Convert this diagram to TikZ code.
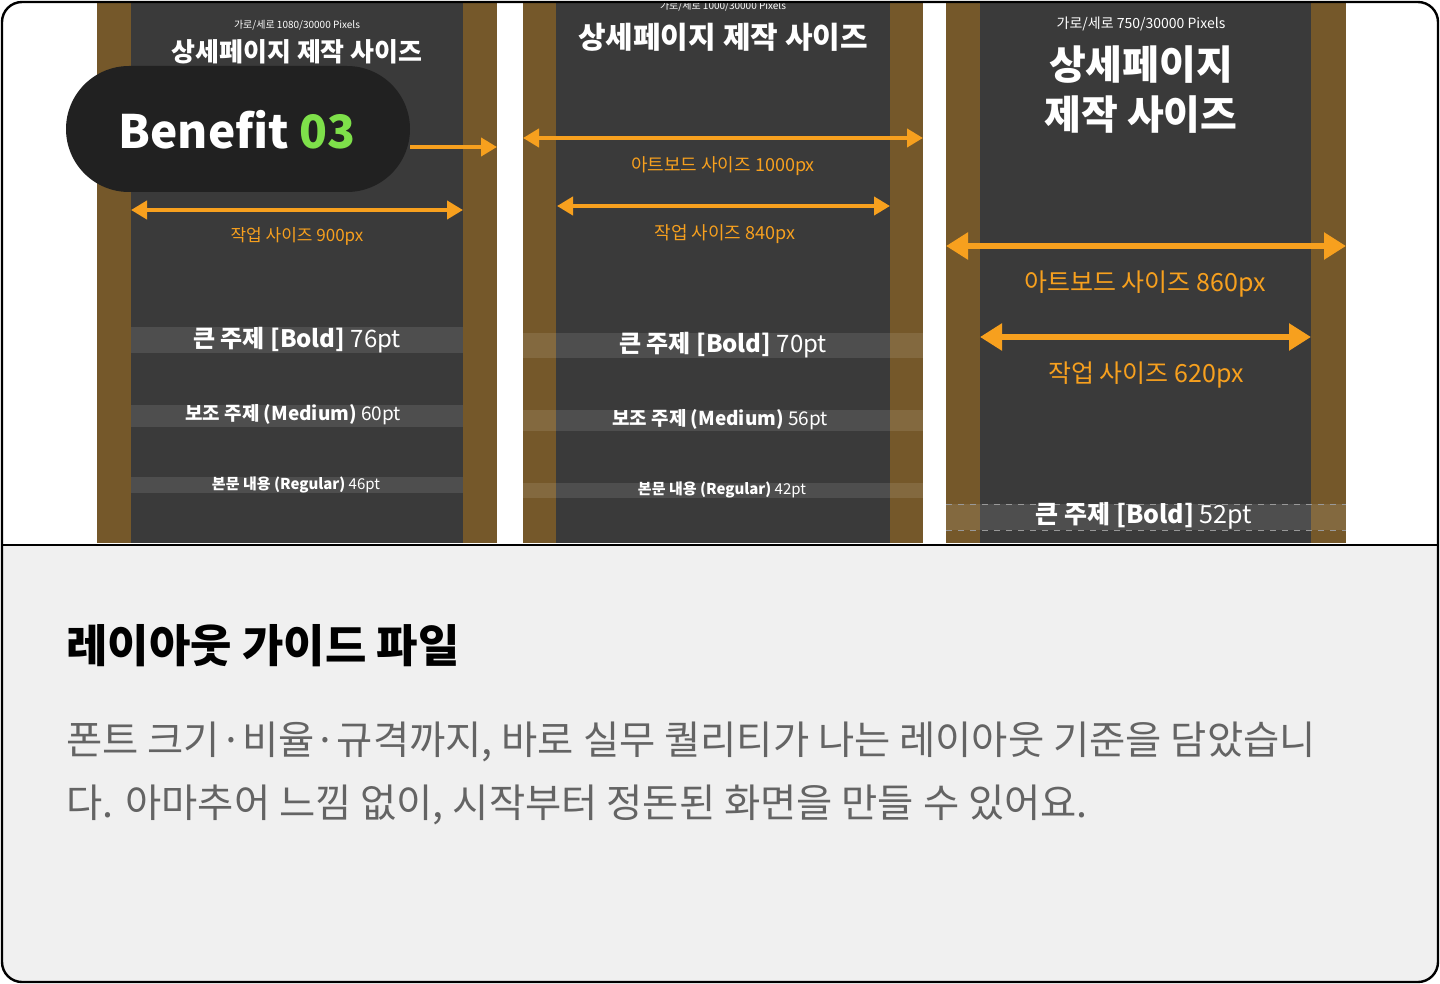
\documentclass[tikz,border=0pt]{standalone}
\usepackage{fontspec}
\setmainfont{Noto Sans CJK KR}
\usetikzlibrary{positioning}
\usetikzlibrary{arrows.meta}
\definecolor{edge}{RGB}{117,88,42}
\definecolor{panel}{RGB}{58,58,58}
\definecolor{amber}{RGB}{247,160,30}
\definecolor{lime}{RGB}{126,224,74}
\definecolor{pale}{RGB}{240,240,240}
\definecolor{body}{RGB}{100,100,100}
\tikzset{
  measure/.style={amber, line width=2pt, {Triangle[width=9pt,length=8pt]}-{Triangle[width=9pt,length=8pt]}},
  bigmeasure/.style={amber, line width=3pt, {Triangle[width=13pt,length=11pt]}-{Triangle[width=13pt,length=11pt]}},
  band/.style={fill=white, fill opacity=0.1},
  lbl/.style={text=white, inner sep=0pt},
  olbl/.style={text=amber, inner sep=0pt}
}
\begin{document}
\begin{tikzpicture}[x=0.5pt,y=-0.5pt]
\useasboundingbox (0,0) rectangle (1440,984);
\begin{scope}
\clip[rounded corners=10pt] (2,2) rectangle (1438,982);
\fill[white] (0,0) rectangle (1440,545);
\fill[pale] (0,545) rectangle (1440,984);

% panels
\fill[edge] (97,3) rectangle (497,543);
\fill[panel] (131,3) rectangle (463,543);
\fill[edge] (523,3) rectangle (923,543);
\fill[panel] (556,3) rectangle (890,543);
\fill[edge] (946,3) rectangle (1346,543);
\fill[panel] (980,3) rectangle (1311,543);

% panel 1
\node[lbl, font=\fontsize{5}{6}\selectfont] (p1px) at (297,25) {가로/세로 1080/30000 Pixels};
\node[lbl, font=\fontsize{13}{15}\selectfont\bfseries] (p1title) at (297,52) {상세페이지 제작 사이즈};
\coordinate (w1a) at (131,210); \coordinate (w1b) at (463,210);
\draw[measure] (w1a) -- (w1b);
\node[olbl, font=\fontsize{8.5}{10}\selectfont] (w1) at (297,236) {작업 사이즈 900px};
\fill[band] (131,327) rectangle (463,353);
\node[lbl, font=\fontsize{12}{14}\selectfont] (b1) at (297,340) {\textbf{큰 주제 [Bold]} 76pt};
\fill[band] (131,405) rectangle (463,427);
\node[lbl, font=\fontsize{9.5}{11}\selectfont] (m1) at (293,415) {\textbf{보조 주제 (Medium)} 60pt};
\fill[band] (131,477) rectangle (463,493);
\node[lbl, font=\fontsize{7.5}{9}\selectfont] (r1) at (296,485) {\textbf{본문 내용 (Regular)} 46pt};

% panel 2
\node[lbl, font=\fontsize{5}{6}\selectfont] (p2px) at (723,6) {가로/세로 1000/30000 Pixels};
\node[lbl, font=\fontsize{15}{17}\selectfont\bfseries] (p2title) at (723,37) {상세페이지 제작 사이즈};
\coordinate (a2a) at (523,138); \coordinate (a2b) at (923,138);
\draw[measure] (a2a) -- (a2b);
\node[olbl, font=\fontsize{9}{11}\selectfont] (a2) at (723,166) {아트보드 사이즈 1000px};
\coordinate (w2a) at (557,206); \coordinate (w2b) at (890,206);
\draw[measure] (w2a) -- (w2b);
\node[olbl, font=\fontsize{9}{11}\selectfont] (w2) at (725,234) {작업 사이즈 840px};
\fill[band] (523,333) rectangle (923,358);
\node[lbl, font=\fontsize{12}{14}\selectfont] (b2) at (723,345) {\textbf{큰 주제 [Bold]} 70pt};
\fill[band] (523,410) rectangle (923,431);
\node[lbl, font=\fontsize{9.5}{11}\selectfont] (m2) at (720,420) {\textbf{보조 주제 (Medium)} 56pt};
\fill[band] (523,483) rectangle (923,498);
\node[lbl, font=\fontsize{7.5}{9}\selectfont] (r2) at (722,490) {\textbf{본문 내용 (Regular)} 42pt};

% panel 3
\node[lbl, font=\fontsize{7}{8}\selectfont] (p3px) at (1141,24) {가로/세로 750/30000 Pixels};
\node[lbl, font=\fontsize{20}{25}\selectfont\bfseries, align=center] (p3title) at (1141,90) {상세페이지\\제작 사이즈};
\coordinate (a3a) at (946,246); \coordinate (a3b) at (1346,246);
\draw[bigmeasure] (a3a) -- (a3b);
\node[olbl, font=\fontsize{12.5}{15}\selectfont] (a3) at (1145,284) {아트보드 사이즈 860px};
\coordinate (w3a) at (980,337); \coordinate (w3b) at (1311,337);
\draw[bigmeasure] (w3a) -- (w3b);
\node[olbl, font=\fontsize{12.5}{15}\selectfont] (w3) at (1146,375) {작업 사이즈 620px};
\fill[band] (946,504) rectangle (1346,530);
\draw[white!60!black, dashed, thin] (946,504) -- (1346,504) (946,530) -- (1346,530);
\node[lbl, font=\fontsize{12.5}{15}\selectfont] (b3) at (1144,516) {\textbf{큰 주제 [Bold]} 52pt};

% benefit badge
\fill[black!87, rounded corners=31.5pt] (66,66) rectangle (410,192);
\node[text=white, font=\fontsize{23}{27}\selectfont\bfseries, inner sep=0pt] (badge) at (237,130) {Benefit \textcolor{lime}{03}};
\coordinate (tipend) at (497,147);
\draw[amber, line width=2pt, -{Triangle[width=9pt,length=8pt]}] (410,147) -- (tipend);

% caption
\draw[black, line width=1.2pt] (0,545) -- (1440,545);
\node[anchor=west, inner sep=0pt, font=\fontsize{22.5}{27}\selectfont\bfseries] (title) at (66,646) {레이아웃 가이드 파일};
\node[anchor=north west, inner sep=0pt, text=body, align=left, font=\fontsize{19.7}{31.5}\selectfont] (desc) at (66,722)
  {폰트 크기·비율·규격까지, 바로 실무 퀄리티가 나는 레이아웃 기준을 담았습니\\다. 아마추어 느낌 없이, 시작부터 정돈된 화면을 만들 수 있어요.};
\end{scope}
\draw[black, line width=1.2pt, rounded corners=10pt] (2,2) rectangle (1438,982);
\end{tikzpicture}
\end{document}
